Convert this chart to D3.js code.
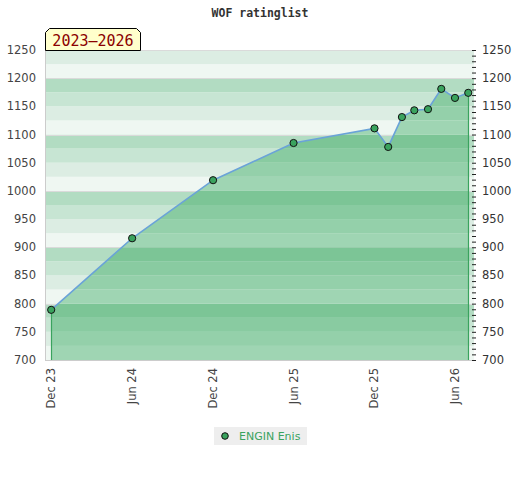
<!DOCTYPE html>
<html><head><meta charset="utf-8">
<script src="https://cdn.jsdelivr.net/npm/d3@7"></script>
<style>body{margin:0;background:#fff}svg{display:block}</style>
</head><body><svg id="c" width="520" height="480"></svg>
<script>
const dates = ["2023-12-01","2024-06-01","2024-12-01","2025-06-01","2025-12-01","2026-01-01","2026-02-01","2026-03-01","2026-04-01","2026-05-01","2026-06-01","2026-07-01"];
const ratings = [789, 916, 1019, 1085, 1111, 1078, 1131, 1143, 1145, 1181, 1165, 1174];
const yTicks = [700, 750, 800, 850, 900, 950, 1000, 1050, 1100, 1150, 1200, 1250];
const xTickDates = ["2023-12-01","2024-06-01","2024-12-01","2025-06-01","2025-12-01","2026-06-01"];
const playerName = "ENGIN Enis";
const title = "WOF ratinglist";
const periodLabel = "2023\u20132026";

const parse = d3.utcParse("%Y-%m-%d");
const data = dates.map((d,i)=>({date:parse(d), v:ratings[i]}));
const svg = d3.select("#c");
const L=45, R=474, T=50, B=360;
const x = d3.scaleUtc().domain([parse("2023-11-17"), parse("2026-07-14")]).range([L,R]);
const y = d3.scaleLinear().domain([700,1250]).range([B,T]);

const bgCols = ["#b2dcc2","#c7e5d3","#dcede3","#eff7f2"];
const inCols = ["#7cc596","#89cba1","#94d0aa","#9fd5b3"];
const bands = d3.range(700,1250,25).map(lo=>({lo, hi:lo+25, k:3-((lo-700)/25)%4}));
svg.append("g").selectAll("rect").data(bands).join("rect")
  .attr("x",L).attr("width",R-L)
  .attr("y",d=>y(d.hi)).attr("height",d=>y(d.lo)-y(d.hi))
  .attr("fill",d=>bgCols[d.k]);

// separators at each 100
svg.append("g").selectAll("line").data([800,900,1000,1100,1200,1250]).join("line")
  .attr("x1",L).attr("x2",R).attr("y1",d=>Math.round(y(d))+0.5).attr("y2",d=>Math.round(y(d))+0.5)
  .attr("stroke","#dadada").attr("stroke-width",1);

const area = d3.area().x(d=>x(d.date)).y0(y(700)).y1(d=>y(d.v));
const line = d3.line().x(d=>x(d.date)).y(d=>y(d.v));
svg.append("clipPath").attr("id","ac").append("path").attr("d",area(data));
svg.append("g").attr("clip-path","url(#ac)").selectAll("rect").data(bands).join("rect")
  .attr("x",L).attr("width",R-L)
  .attr("y",d=>y(d.hi)).attr("height",d=>y(d.lo)-y(d.hi))
  .attr("fill",d=>inCols[d.k]);

svg.append("line").attr("x1",L+0.5).attr("x2",L+0.5).attr("y1",T).attr("y2",B+0.5).attr("stroke","#cccccc");
svg.append("line").attr("x1",L).attr("x2",R).attr("y1",B+0.5).attr("y2",B+0.5).attr("stroke","#cccccc");

const first = data[0], last = data[data.length-1];
[first,last].forEach(d=>{
  svg.append("line").attr("x1",Math.round(x(d.date))+0.5).attr("x2",Math.round(x(d.date))+0.5)
    .attr("y1",y(d.v)).attr("y2",B).attr("stroke","#3aa35e").attr("stroke-width",1.2);
});

svg.append("path").attr("d",line(data)).attr("fill","none").attr("stroke","#6aa3d8").attr("stroke-width",1.6);
svg.append("g").selectAll("circle").data(data).join("circle")
  .attr("cx",d=>x(d.date)).attr("cy",d=>y(d.v)).attr("r",3.6)
  .attr("fill","#3aa35e").attr("stroke","#111").attr("stroke-width",1);

const font = "DejaVu Sans, sans-serif";
svg.append("g").selectAll("text").data(yTicks).join("text")
  .attr("x",36).attr("y",d=>y(d)+4).attr("text-anchor","end")
  .attr("font-family",font).attr("font-size",11.5).attr("fill","#444").text(d=>d);
const ra = d3.axisRight(y).tickValues(d3.range(700,1251,10)).tickSize(4).tickFormat("");
const rg = svg.append("g").attr("transform",`translate(${R-2},0)`).call(ra);
rg.select(".domain").remove();
rg.selectAll("line").attr("stroke","#222");
svg.append("g").selectAll("text").data(yTicks).join("text")
  .attr("x",482).attr("y",d=>y(d)+4).attr("text-anchor","start")
  .attr("font-family",font).attr("font-size",11.5).attr("fill","#333").text(d=>d);

const fmt = d3.utcFormat("%b %y");
svg.append("g").selectAll("text").data(xTickDates.map(parse)).join("text")
  .attr("transform",d=>`translate(${x(d)+4},368) rotate(-90)`)
  .attr("text-anchor","end").attr("font-family",font).attr("font-size",11.5).attr("fill","#444")
  .text(d=>fmt(d));

svg.append("text").attr("x",260).attr("y",17).attr("text-anchor","middle")
  .attr("font-family","DejaVu Sans Mono, monospace").attr("font-weight","bold").attr("font-size",11.5)
  .attr("fill","#333").text(title);

const bx0=45.5, bx1=140.5, by0=28.5, by1=50.5, ch=4;
svg.append("path").attr("d",`M${bx0},${by1}L${bx0},${by0+ch}L${bx0+ch},${by0}L${bx1-ch},${by0}L${bx1},${by0+ch}L${bx1},${by1}Z`)
  .attr("fill","#ffffcc").attr("stroke","#000").attr("stroke-width",1);
svg.append("text").attr("x",(bx0+bx1)/2).attr("y",46).attr("text-anchor","middle")
  .attr("font-family","DejaVu Sans Mono, monospace").attr("font-size",15).attr("fill","#8b0000").text(periodLabel);

svg.append("rect").attr("x",214).attr("y",427).attr("width",93).attr("height",18).attr("fill","#eeeeee");
svg.append("circle").attr("cx",225).attr("cy",436).attr("r",3.3).attr("fill","#3aa35e").attr("stroke","#111");
svg.append("text").attr("x",239).attr("y",440).attr("font-family",font).attr("font-size",11)
  .attr("fill","#3aa35e").text(playerName);
</script></body></html>
